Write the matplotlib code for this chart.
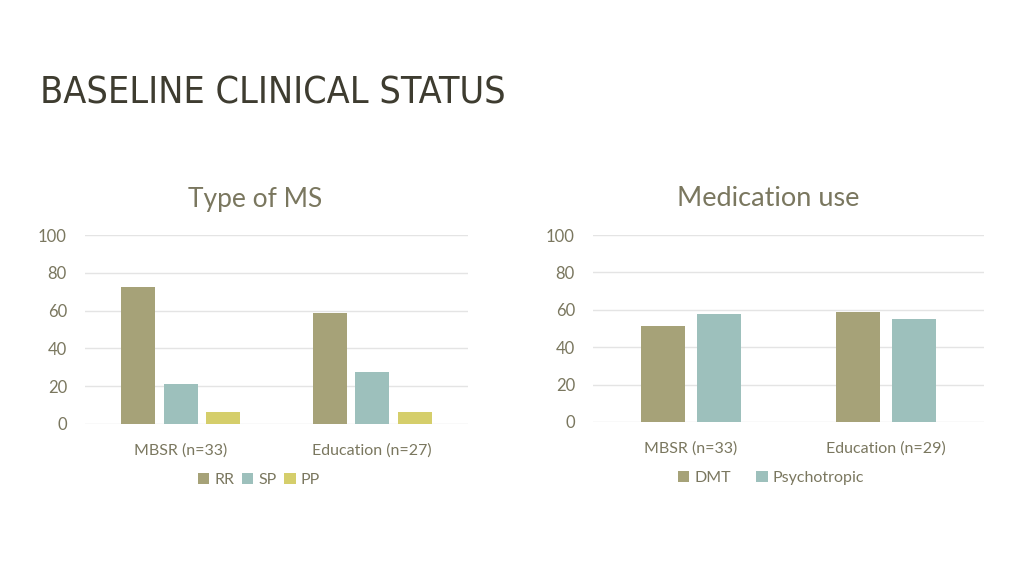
import numpy as np
import matplotlib.pyplot as plt

# data
groups_ms = ['MBSR (n=33)', 'Education (n=27)']
rr = [72.7, 58.5]
sp = [21.2, 27.5]
pp = [6.1, 6.1]

groups_med = ['MBSR (n=33)', 'Education (n=29)']
dmt = [51.5, 58.6]
psycho = [57.6, 55.2]

olive = '#A6A278'
teal = '#9DC0BC'
yellow = '#D5CE6B'
txt = '#7A775F'
grid = '#E4E4E4'
font = ['Lato', 'DejaVu Sans']

plt.rcParams['font.family'] = font

W, H = 1024, 576
fig = plt.figure(figsize=(W / 100, H / 100), dpi=100)
fig.patch.set_facecolor('white')


def px_axes(x0, x1, ytop, ybot):
    return fig.add_axes([x0 / W, (H - ybot) / H, (x1 - x0) / W, (ybot - ytop) / H])


def style(ax, cats):
    ax.set_ylim(0, 100)
    ax.set_yticks(range(0, 101, 20))
    ax.set_xlim(-0.5, len(cats) - 0.5)
    ax.set_xticks(range(len(cats)))
    ax.set_xticklabels(cats)
    for s in ax.spines.values():
        s.set_visible(False)
    ax.grid(axis='y', color=grid, linewidth=1)
    ax.set_axisbelow(True)
    ax.tick_params(axis='y', length=0, pad=13, labelsize=12, labelcolor=txt)
    ax.tick_params(axis='x', length=0, pad=14, labelsize=11.5, labelcolor=txt)


# left: type of MS
ax1 = px_axes(85, 468, 235, 424)
x = np.arange(len(groups_ms))
w, step = 0.178, 0.222
ax1.bar(x - step, rr, w, color=olive, label='RR')
ax1.bar(x, sp, w, color=teal, label='SP')
ax1.bar(x + step, pp, w, color=yellow, label='PP')
style(ax1, groups_ms)
fig.text(255 / W, 1 - 200 / H, 'Type of MS', ha='center', va='center',
         fontsize=19, color=txt)
fig.legend(*ax1.get_legend_handles_labels(), loc='center',
           bbox_to_anchor=(259 / W, 1 - 480 / H), ncol=3, frameon=False,
           fontsize=11.5, labelcolor=txt, handlelength=0.7, handleheight=0.7,
           handletextpad=0.3, columnspacing=0.5)

# right: medication use
ax2 = px_axes(593, 984, 235, 422)
x = np.arange(len(groups_med))
w, step = 0.225, 0.286
ax2.bar(x - step / 2, dmt, w, color=olive, label='DMT')
ax2.bar(x + step / 2, psycho, w, color=teal, label='Psychotropic')
style(ax2, groups_med)
fig.text(768 / W, 1 - 199 / H, 'Medication use', ha='center', va='center',
         fontsize=19.5, color=txt)
fig.legend(*ax2.get_legend_handles_labels(), loc='center',
           bbox_to_anchor=(771 / W, 1 - 478 / H), ncol=2, frameon=False,
           fontsize=11.5, labelcolor=txt, handlelength=0.7, handleheight=0.7,
           handletextpad=0.3, columnspacing=1.6)

fig.text(40 / W, 1 - 93 / H, 'BASELINE CLINICAL STATUS', ha='left', va='center',
         fontsize=27, color='#3E3C30', fontstretch='condensed',
         family=['Liberation Sans Narrow', 'DejaVu Sans'])

fig.savefig('out.png', dpi=100)
